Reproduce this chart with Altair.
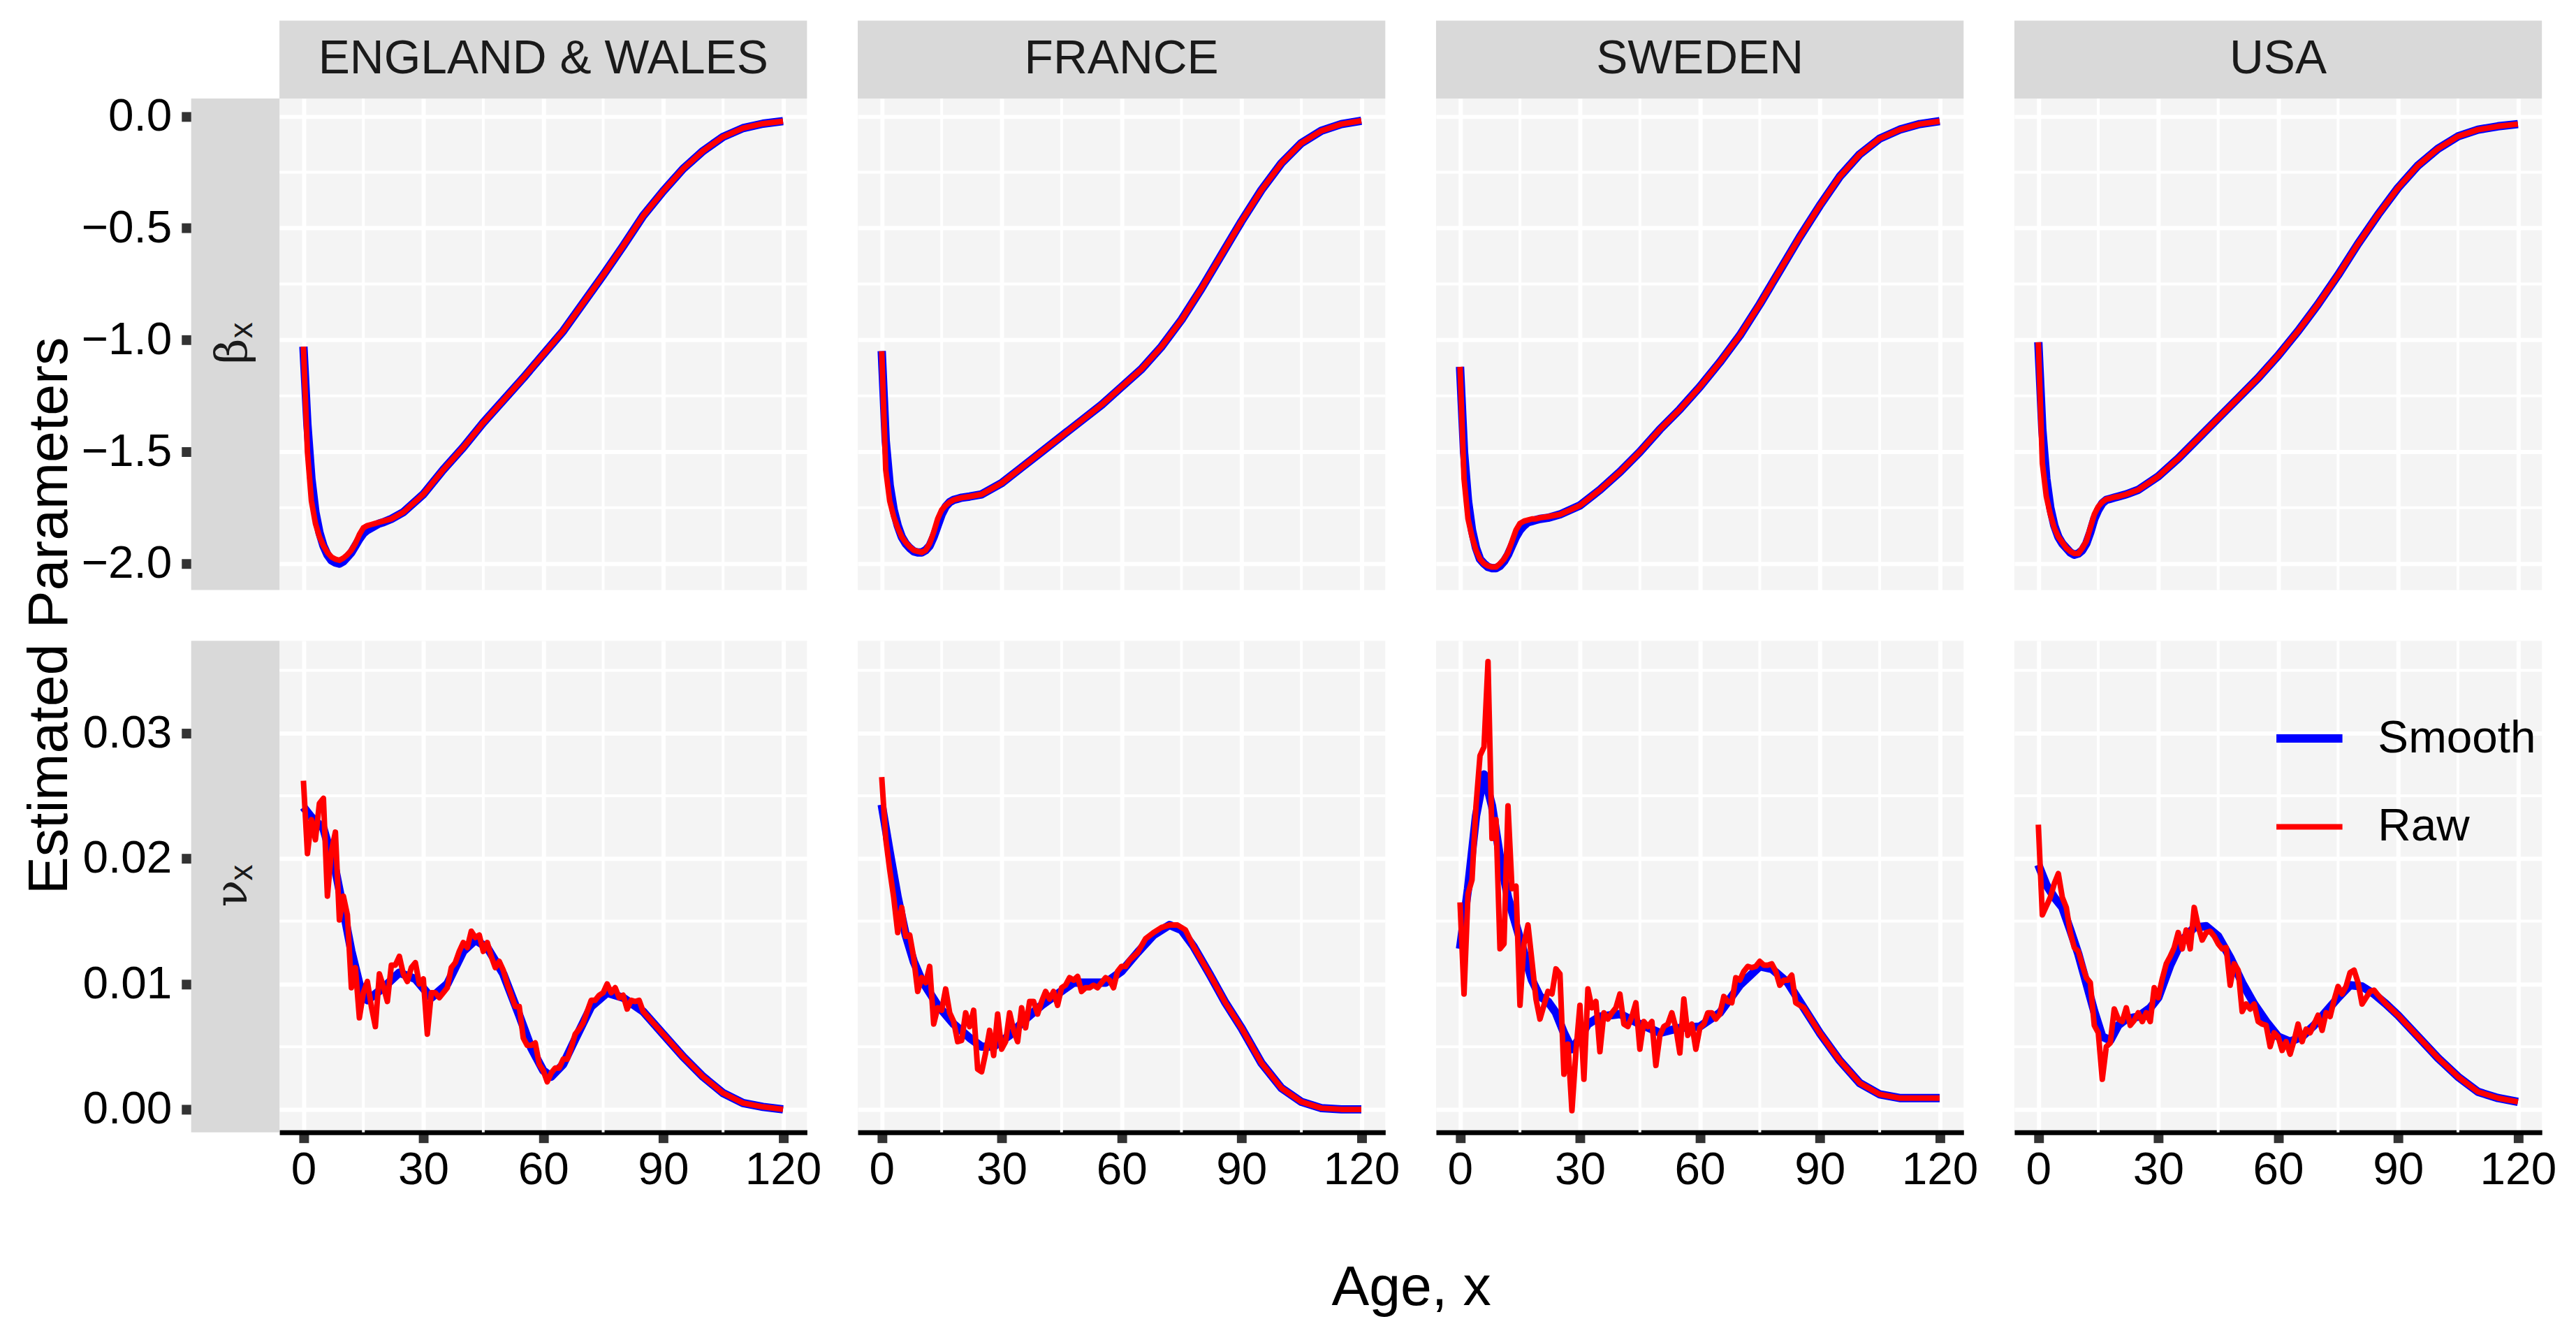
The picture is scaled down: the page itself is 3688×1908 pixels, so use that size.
import altair as alt
import pandas as pd

FONT = "Liberation Sans"
COUNTRIES = ["ENGLAND & WALES", "FRANCE", "SWEDEN", "USA"]
SERIES = ["Smooth", "Raw"]
SERIES_COLORS = ["#0000FF", "#FF0000"]
SERIES_WIDTHS = [12, 8]
PARAMS = ["beta", "nu"]
PARAM_SYMBOLS = {"beta": "β", "nu": "ν"}
PARAM_SUBSCRIPT = "x"

X_TICKS = [0, 30, 60, 90, 120]
X_MINOR = [15, 45, 75, 105]
BETA_TICKS = [-2.0, -1.5, -1.0, -0.5, 0.0]
BETA_MINOR = [-1.75, -1.25, -0.75, -0.25]
NU_TICKS = [0.00, 0.01, 0.02, 0.03]
NU_MINOR = [0.005, 0.015, 0.025, 0.035]
X_DOMAIN = [-6, 126]
BETA_DOMAIN = [-2.118, 0.0793]
NU_DOMAIN = [-0.00183, 0.03736]

# ---------------- beta_x ----------------
beta_ages = list(range(21)) + [22, 25] + list(range(30, 121, 5))
beta_tail_ew = [-1.69, -1.58, -1.48, -1.37, -1.27, -1.17, -1.065, -0.96, -0.835, -0.71,
                -0.58, -0.445, -0.335, -0.235, -0.155, -0.092, -0.053, -0.033, -0.022]
beta_smooth_ew = [-1.03, -1.38, -1.62, -1.77, -1.86, -1.92, -1.96, -1.985, -1.995, -2.0,
                  -1.99, -1.97, -1.95, -1.92, -1.89, -1.865, -1.85, -1.84, -1.83, -1.82,
                  -1.815, -1.80, -1.77] + beta_tail_ew
beta_raw_ew = [-1.03, -1.50, -1.72, -1.82, -1.88, -1.92, -1.95, -1.97, -1.98, -1.985,
               -1.975, -1.96, -1.94, -1.91, -1.87, -1.84, -1.83, -1.825, -1.82, -1.815,
               -1.81, -1.80, -1.77] + beta_tail_ew

beta_tail_fr = [-1.64, -1.57, -1.50, -1.43, -1.36, -1.29, -1.21, -1.13, -1.03, -0.91,
                -0.77, -0.62, -0.47, -0.33, -0.21, -0.12, -0.065, -0.035, -0.02]
beta_smooth_fr = [-1.05, -1.45, -1.65, -1.76, -1.83, -1.88, -1.91, -1.93, -1.945, -1.95,
                  -1.95, -1.94, -1.92, -1.88, -1.83, -1.78, -1.745, -1.725, -1.715, -1.71,
                  -1.705, -1.70, -1.69] + beta_tail_fr
beta_raw_fr = [-1.05, -1.58, -1.72, -1.79, -1.84, -1.88, -1.905, -1.925, -1.94, -1.945,
               -1.95, -1.94, -1.91, -1.86, -1.80, -1.76, -1.74, -1.725, -1.715, -1.71,
               -1.705, -1.70, -1.69] + beta_tail_fr

beta_tail_se = [-1.74, -1.67, -1.59, -1.50, -1.40, -1.31, -1.21, -1.10, -0.98, -0.84,
                -0.69, -0.54, -0.40, -0.27, -0.17, -0.10, -0.06, -0.035, -0.022]
beta_smooth_se = [-1.12, -1.50, -1.72, -1.85, -1.93, -1.98, -2.0, -2.015, -2.02, -2.02,
                  -2.01, -1.99, -1.96, -1.92, -1.88, -1.85, -1.83, -1.815, -1.81, -1.805,
                  -1.80, -1.795, -1.78] + beta_tail_se
beta_raw_se = [-1.12, -1.62, -1.80, -1.88, -1.94, -1.98, -2.0, -2.01, -2.015, -2.015,
               -2.0, -1.98, -1.95, -1.90, -1.85, -1.82, -1.81, -1.805, -1.80, -1.80,
               -1.795, -1.79, -1.78] + beta_tail_se

beta_tail_us = [-1.61, -1.53, -1.44, -1.35, -1.26, -1.17, -1.07, -0.96, -0.84, -0.71,
                -0.57, -0.44, -0.32, -0.22, -0.145, -0.09, -0.06, -0.045, -0.035]
beta_smooth_us = [-1.01, -1.40, -1.62, -1.75, -1.83, -1.88, -1.91, -1.93, -1.95, -1.96,
                  -1.955, -1.94, -1.91, -1.86, -1.80, -1.76, -1.73, -1.715, -1.71, -1.705,
                  -1.70, -1.69, -1.67] + beta_tail_us
beta_raw_us = [-1.01, -1.55, -1.70, -1.78, -1.84, -1.88, -1.905, -1.93, -1.945, -1.955,
               -1.955, -1.93, -1.90, -1.84, -1.78, -1.745, -1.725, -1.712, -1.708, -1.703,
               -1.70, -1.69, -1.67] + beta_tail_us

# ---------------- nu_x ----------------
nu_smooth_ages_ew = [0, 2, 5, 8, 10, 12, 14, 16, 20, 24, 28, 32, 36, 40, 43, 46, 50, 54, 57,
                     60, 62, 65, 68, 72, 76, 80, 85, 90, 95, 100, 105, 110, 115, 120]
nu_smooth_ew = [.0241, .0233, .0224, .0191, .0159, .0126, .0100, .0087, .0097, .0109, .0104,
                .0089, .0100, .0126, .0135, .0129, .0108, .0075, .0049, .0031, .0026, .0036,
                .0056, .0082, .0093, .0089, .0078, .0060, .0042, .0026, .0013, .0005, .0002, .0000]
nu_raw_ages_ew = list(range(85)) + [85, 90, 95, 100, 105, 110, 115, 120]
nu_raw_ew = [.0262, .0204, .0231, .0215, .0244, .0248, .0170, .0206, .0221, .0151,
             .0170, .0155, .0097, .0113, .0073, .0093, .0102, .0082, .0066, .0108,
             .0098, .0086, .0115, .0115, .0122, .0108, .0102, .0113, .0117, .0100,
             .0104, .0060, .0093, .0093, .0089, .0093, .0097, .0113, .0117, .0126,
             .0133, .0129, .0142, .0137, .0139, .0126, .0133, .0122, .0113, .0118,
             .0111, .0100, .0091, .0082, .0082, .0057, .0051, .0051, .0053, .0036,
             .0031, .0022, .0029, .0033, .0033, .0040, .0040, .0049, .0060, .0064,
             .0069, .0078, .0087, .0087, .0091, .0093, .0100, .0093, .0097, .0089,
             .0091, .0080, .0087, .0086, .0087,
             .0078, .0060, .0042, .0026, .0013, .0005, .0002, .0000]

nu_smooth_ages_fr = [0, 2, 4, 6, 8, 10, 14, 18, 22, 25, 28, 32, 36, 40, 44, 48, 52, 56, 60,
                     64, 68, 72, 75, 78, 82, 86, 90, 95, 100, 105, 110, 115, 120]
nu_smooth_fr = [.0243, .0205, .0169, .0139, .0118, .0103, .0083, .0068, .0057, .0050, .0050,
                .0059, .0072, .0083, .0092, .0101, .0101, .0101, .0110, .0125, .0139, .0147,
                .0143, .0130, .0108, .0085, .0065, .0037, .0017, .0006, .0001, .0000, .0000]
nu_raw_ages_fr = list(range(63)) + [64, 66, 68, 70, 72, 74, 76, 78, 82, 86, 90, 95, 100,
                                    105, 110, 115, 120]
nu_raw_fr = [.0265, .0216, .0191, .0169, .0141, .0161, .0138, .0139, .0121, .0094,
             .0105, .0101, .0114, .0068, .0081, .0079, .0096, .0077, .0070, .0054,
             .0055, .0077, .0066, .0079, .0032, .0030, .0045, .0063, .0043, .0076,
             .0048, .0054, .0077, .0063, .0054, .0081, .0065, .0086, .0086, .0076,
             .0086, .0094, .0088, .0094, .0083, .0097, .0099, .0105, .0103, .0106,
             .0094, .0097, .0097, .0099, .0097, .0101, .0105, .0103, .0097, .0110,
             .0114, .0114, .0119,
             .0125, .0136, .0141, .0145, .0147, .0147, .0143, .0130, .0108, .0085,
             .0065, .0037, .0017, .0006, .0001, .0000, .0000]

nu_smooth_ages_se = [0, 2, 4, 6, 8, 10, 12, 14, 16, 18, 20, 22, 24, 26, 28, 30, 32, 35, 40,
                     45, 50, 55, 60, 65, 70, 75, 78, 82, 86, 90, 95, 100, 105, 110, 115, 120]
nu_smooth_se = [.0128, .0176, .0234, .0267, .0242, .0201, .0169, .0147, .0125, .0103, .0090,
                .0086, .0077, .0061, .0048, .0057, .0068, .0074, .0076, .0068, .0061, .0065,
                .0066, .0077, .0099, .0114, .0112, .0101, .0081, .0061, .0039, .0021, .0012,
                .0009, .0009, .0009]
nu_raw_ages_se = list(range(85)) + [86, 90, 95, 100, 105, 110, 115, 120]
nu_raw_se = [.0165, .0092, .0172, .0183, .0242, .0282, .0289, .0357, .0216, .0231,
             .0128, .0132, .0242, .0176, .0178, .0083, .0132, .0147, .0118, .0088,
             .0072, .0083, .0094, .0092, .0112, .0108, .0028, .0052, -.0001, .0046,
             .0083, .0024, .0096, .0081, .0086, .0046, .0077, .0072, .0077, .0081,
             .0092, .0068, .0066, .0074, .0085, .0048, .0070, .0066, .0070, .0035,
             .0059, .0066, .0068, .0077, .0065, .0045, .0088, .0059, .0068, .0048,
             .0065, .0068, .0077, .0077, .0072, .0076, .0090, .0086, .0085, .0105,
             .0103, .0110, .0114, .0113, .0114, .0118, .0115, .0115, .0116, .0110,
             .0099, .0103, .0103, .0107, .0085,
             .0081, .0061, .0039, .0021, .0012, .0009, .0009, .0009]

nu_smooth_ages_us = [0, 2, 4, 6, 8, 10, 12, 14, 16, 18, 20, 22, 25, 28, 30, 33, 36, 39, 42,
                     45, 48, 51, 54, 57, 60, 63, 66, 69, 72, 75, 78, 81, 84, 87, 90, 95, 100,
                     105, 110, 115, 120]
nu_smooth_us = [.0195, .0179, .0169, .0161, .0143, .0124, .0101, .0078, .0058, .0055, .0067,
                .0072, .0074, .0081, .0089, .0115, .0135, .0145, .0146, .0138, .0121, .0101,
                .0084, .0070, .0058, .0054, .0058, .0067, .0078, .0089, .0099, .0098, .0092,
                .0084, .0075, .0058, .0041, .0026, .0014, .0009, .0006]
nu_raw_ages_us = list(range(86)) + [87, 90, 95, 100, 105, 110, 115, 120]
nu_raw_us = [.0227, .0155, .0162, .0169, .0180, .0188, .0169, .0161, .0141, .0129,
             .0126, .0115, .0105, .0101, .0067, .0061, .0024, .0050, .0053, .0080,
             .0072, .0070, .0081, .0067, .0071, .0077, .0070, .0077, .0070, .0097,
             .0089, .0104, .0116, .0122, .0129, .0141, .0128, .0143, .0128, .0161,
             .0146, .0135, .0141, .0142, .0138, .0132, .0128, .0129, .0099, .0116,
             .0111, .0078, .0084, .0080, .0084, .0070, .0068, .0067, .0050, .0061,
             .0058, .0047, .0054, .0044, .0055, .0068, .0054, .0064, .0061, .0068,
             .0075, .0063, .0077, .0074, .0087, .0098, .0092, .0098, .0109, .0111,
             .0101, .0084, .0089, .0094, .0095, .0091,
             .0084, .0075, .0058, .0041, .0026, .0014, .0009, .0006]

SOURCES = [
    ("ENGLAND & WALES", "beta", "Smooth", beta_ages, beta_smooth_ew),
    ("ENGLAND & WALES", "beta", "Raw", beta_ages, beta_raw_ew),
    ("FRANCE", "beta", "Smooth", beta_ages, beta_smooth_fr),
    ("FRANCE", "beta", "Raw", beta_ages, beta_raw_fr),
    ("SWEDEN", "beta", "Smooth", beta_ages, beta_smooth_se),
    ("SWEDEN", "beta", "Raw", beta_ages, beta_raw_se),
    ("USA", "beta", "Smooth", beta_ages, beta_smooth_us),
    ("USA", "beta", "Raw", beta_ages, beta_raw_us),
    ("ENGLAND & WALES", "nu", "Smooth", nu_smooth_ages_ew, nu_smooth_ew),
    ("ENGLAND & WALES", "nu", "Raw", nu_raw_ages_ew, nu_raw_ew),
    ("FRANCE", "nu", "Smooth", nu_smooth_ages_fr, nu_smooth_fr),
    ("FRANCE", "nu", "Raw", nu_raw_ages_fr, nu_raw_fr),
    ("SWEDEN", "nu", "Smooth", nu_smooth_ages_se, nu_smooth_se),
    ("SWEDEN", "nu", "Raw", nu_raw_ages_se, nu_raw_se),
    ("USA", "nu", "Smooth", nu_smooth_ages_us, nu_smooth_us),
    ("USA", "nu", "Raw", nu_raw_ages_us, nu_raw_us),
]

records = []
for country, param, series, ages, vals in SOURCES:
    assert len(ages) == len(vals), (country, param, series, len(ages), len(vals))
    for a, v in zip(ages, vals):
        records.append({"country": country, "param": param, "series": series,
                        "age": a, "value": v})
df = pd.DataFrame(records)

W, H = 759, 707
STRIP_H = 112
ROW_STRIP_W = 127
TICK_FS = 66

color_scale = alt.Scale(domain=SERIES, range=SERIES_COLORS)
width_scale = alt.Scale(domain=SERIES, range=SERIES_WIDTHS)
legend = alt.Legend(title=None, orient="none", legendX=2867, legendY=867,
                    symbolType="stroke", symbolSize=9025, labelFont=FONT,
                    labelFontSize=TICK_FS, labelColor="black", labelOffset=45,
                    labelLimit=600, rowPadding=42, padding=0)


def panel(ci, pi):
    country = COUNTRIES[ci]
    param = PARAMS[pi]
    bottom = pi == 1
    first = ci == 0
    yticks = BETA_TICKS if pi == 0 else NU_TICKS
    yminor = BETA_MINOR if pi == 0 else NU_MINOR
    ydom = BETA_DOMAIN if pi == 0 else NU_DOMAIN

    xscale = alt.Scale(domain=X_DOMAIN, nice=False, zero=False)
    yscale = alt.Scale(domain=ydom, nice=False, zero=False)

    xkw = dict(values=X_TICKS, grid=True, gridColor="white", gridWidth=6,
               gridOpacity=1, domain=bottom, ticks=bottom, labels=bottom,
               labelFlush=False, labelOverlap=False, title=None)
    if bottom:
        xkw.update(tickSize=15, tickWidth=14, tickColor="#333333",
                   domainColor="black", domainWidth=7, labelFont=FONT,
                   labelFontSize=TICK_FS, labelColor="black", labelPadding=7,
                   format="d")
        if ci == 1:
            xkw.update(title="Age, x", titleX=796, titleY=248, titleAngle=0,
                       titleAlign="center", titleBaseline="alphabetic",
                       titleFont=FONT, titleFontSize=81, titleFontWeight="normal",
                       titleColor="black")
    xaxis = alt.Axis(**xkw)

    ykw = dict(values=yticks, grid=True, gridColor="white", gridWidth=6,
               gridOpacity=1, domain=False, ticks=first, labels=first,
               labelOverlap=False, title=None)
    if first:
        ykw.update(offset=ROW_STRIP_W, tickSize=14, tickWidth=14,
                   tickColor="#333333", labelFont=FONT, labelFontSize=TICK_FS,
                   labelColor="black", labelPadding=14,
                   format=".1f" if pi == 0 else ".2f")
        if pi == 0:
            ykw.update(title="Estimated Parameters", titleX=-179, titleY=743.5,
                       titleAngle=270, titleAlign="center",
                       titleBaseline="alphabetic", titleFont=FONT,
                       titleFontSize=81, titleFontWeight="normal",
                       titleColor="black")
    yaxis = alt.Axis(**ykw)

    xmin = alt.Chart(pd.DataFrame({"v": X_MINOR})).mark_rule(
        color="white", strokeWidth=4).encode(
        x=alt.X("v:Q", scale=xscale, axis=xaxis))
    ymin = alt.Chart(pd.DataFrame({"v": yminor})).mark_rule(
        color="white", strokeWidth=4).encode(
        y=alt.Y("v:Q", scale=yscale, axis=yaxis))

    layers = [xmin, ymin]
    for s in SERIES:
        layers.append(
            alt.Chart(df)
            .transform_filter((alt.datum.country == country) &
                              (alt.datum.param == param) &
                              (alt.datum.series == s))
            .mark_line(strokeJoin="round", strokeCap="butt")
            .encode(
                x=alt.X("age:Q", scale=xscale, axis=xaxis),
                y=alt.Y("value:Q", scale=yscale, axis=yaxis),
                color=alt.Color("series:N", scale=color_scale, legend=legend),
                strokeWidth=alt.StrokeWidth("series:N", scale=width_scale,
                                            legend=legend),
                order=alt.Order("age:Q"),
            )
        )

    if pi == 0:
        lab = pd.DataFrame({"label": [country]})
        layers.append(alt.Chart(lab).mark_rect(color="#D9D9D9").encode(
            x=alt.value(0), x2=alt.value(W), y=alt.value(-STRIP_H), y2=alt.value(0)))
        layers.append(alt.Chart(lab).mark_text(
            font=FONT, fontSize=68, color="#1A1A1A", align="center",
            baseline="middle").encode(
            text="label:N", x=alt.value(W / 2), y=alt.value(-STRIP_H / 2)))
    if first:
        sym = pd.DataFrame({"label": [PARAM_SYMBOLS[param]]})
        sub = pd.DataFrame({"label": [PARAM_SUBSCRIPT]})
        layers.append(alt.Chart(sym).mark_rect(color="#D9D9D9").encode(
            x=alt.value(-ROW_STRIP_W), x2=alt.value(0), y=alt.value(0), y2=alt.value(H)))
        layers.append(alt.Chart(sym).mark_text(
            font="DejaVu Serif", fontSize=64, color="#1A1A1A", align="center",
            baseline="middle", angle=270).encode(
            text="label:N", x=alt.value(-ROW_STRIP_W / 2 - 3), y=alt.value(H / 2 + 10)))
        layers.append(alt.Chart(sub).mark_text(
            font=FONT, fontSize=46, color="#1A1A1A", align="center",
            baseline="middle", angle=270).encode(
            text="label:N", x=alt.value(-ROW_STRIP_W / 2 + 10), y=alt.value(H / 2 - 20)))

    return alt.layer(*layers).properties(width=W, height=H)


panels = [panel(ci, pi) for pi in range(2) for ci in range(4)]

chart = (
    alt.concat(*panels, columns=4, spacing=73, bounds="flush")
    .resolve_scale(x="independent", y="independent", color="shared",
                   strokeWidth="shared")
    .configure_view(fill="#F4F4F4", strokeWidth=0)
    .properties(padding={"left": 23, "top": 17, "right": 20, "bottom": 20},
                background="white")
)

chart.save("out.html", embed_options={"renderer": "svg", "actions": False})
